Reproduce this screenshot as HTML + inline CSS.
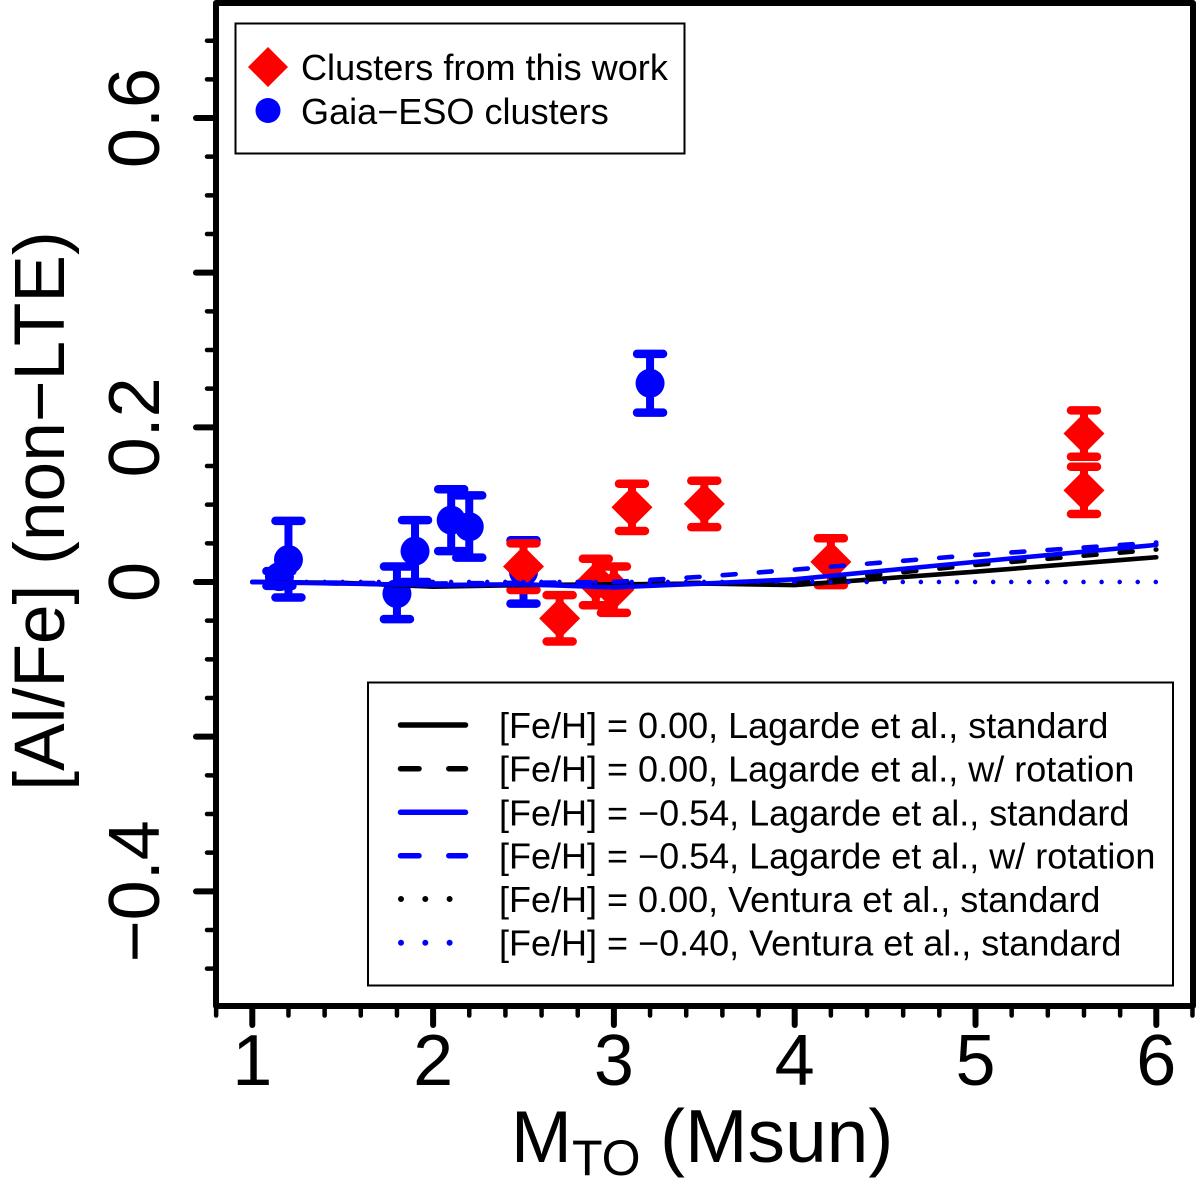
<!DOCTYPE html>
<html lang="en">
<head>
<meta charset="utf-8">
<title>[Al/Fe] versus turn-off mass</title>
<style>
html,body{margin:0;padding:0;background:#fff;}
svg{display:block;}
text{font-family:"Liberation Sans",Arial,sans-serif;fill:#000;}
</style>
</head>
<body>
<svg id="chart" xmlns="http://www.w3.org/2000/svg" width="1200" height="1187" viewBox="0 0 1200 1187">
  <rect x="0" y="0" width="1200" height="1187" fill="#fff"/>
  <g id="marks"></g>
  <g id="lines"></g>
  <g id="axes"></g>

  <rect x="216" y="3" width="977" height="1003" fill="none" stroke="#000" stroke-width="6" stroke-linejoin="round"/>

  <text x="511" y="1162" font-size="73">M<tspan x="572" dy="13" font-size="50">TO</tspan><tspan x="660" dy="-13" font-size="75">(Msun)</tspan></text>
  <text transform="translate(64,511) rotate(-90)" text-anchor="middle" font-size="71.300">[Al/Fe] (non−LTE)</text>

  <g>
    <rect x="235.500" y="23.500" width="449" height="130" fill="#fff" stroke="#000" stroke-width="2"/>
    <polygon points="268,47 288,67 268,87 248,67" fill="#f00"/>
    <circle cx="268" cy="110.500" r="12.500" fill="#00f"/>
    <text x="301" y="80" font-size="36.100">Clusters from this work</text>
    <text x="301" y="124" font-size="36.100">Gaia−ESO clusters</text>
  </g>

  <g>
    <rect x="368" y="682.500" width="805" height="303" fill="#fff" stroke="#000" stroke-width="2"/>
    <line x1="400.500" x2="465.500" y1="725" y2="725" stroke="#000" stroke-width="5.500" stroke-linecap="round"/>
    <line x1="400.500" x2="465.500" y1="768.700" y2="768.700" stroke="#000" stroke-width="5.500" stroke-linecap="round" stroke-dasharray="18.500 29.800"/>
    <line x1="400.500" x2="465.500" y1="812.300" y2="812.300" stroke="#00f" stroke-width="5.500" stroke-linecap="round"/>
    <line x1="400.500" x2="465.500" y1="855.700" y2="855.700" stroke="#00f" stroke-width="5.500" stroke-linecap="round" stroke-dasharray="18.500 29.800"/>
    <line x1="401" x2="452" y1="899" y2="899" stroke="#000" stroke-width="6" stroke-linecap="round" stroke-dasharray="0 24.300"/>
    <line x1="401" x2="452" y1="942.700" y2="942.700" stroke="#00f" stroke-width="6" stroke-linecap="round" stroke-dasharray="0 24.300"/>
    <text x="499" y="738" font-size="36">[Fe/H] = 0.00, Lagarde et al., standard</text>
    <text x="499" y="781.700" font-size="36">[Fe/H] = 0.00, Lagarde et al., w/ rotation</text>
    <text x="499" y="825.300" font-size="36">[Fe/H] = −0.54, Lagarde et al., standard</text>
    <text x="499" y="868.700" font-size="36">[Fe/H] = −0.54, Lagarde et al., w/ rotation</text>
    <text x="499" y="912" font-size="36">[Fe/H] = 0.00, Ventura et al., standard</text>
    <text x="499" y="955.700" font-size="36">[Fe/H] = −0.40, Ventura et al., standard</text>
  </g>
</svg>

<script>
// Data
const gesMass  = [1.15, 1.2, 1.8, 1.9, 2.1, 2.2, 2.5, 3.2];
const gesValue = [0.007, 0.029, -0.015, 0.04, 0.08, 0.0715, 0.013, 0.257];
const gesLow   = [-0.005, -0.02, -0.048, 0.0, 0.04, 0.0315, -0.028, 0.219];
const gesHigh  = [0.014, 0.079, 0.02, 0.08, 0.12, 0.112, 0.054, 0.295];

const workMass  = [2.5, 2.7, 2.9, 3.0, 3.1, 3.5, 4.2, 5.6, 5.6];
const workValue = [0.02, -0.047, 0.0, -0.01, 0.0966, 0.101, 0.026, 0.192, 0.1185];
const workLow   = [-0.0103, -0.077, -0.03, -0.04, 0.066, 0.071, -0.004, 0.162, 0.088];
const workHigh  = [0.05, -0.017, 0.03, 0.02, 0.127, 0.131, 0.0565, 0.222, 0.149];

const modelMass        = [1, 1.5, 2, 2.5, 3, 3.5, 4, 5, 6];
const solarStandard    = [0, -0.001, -0.006, -0.004, -0.003, -0.002, -0.004, 0.0133, 0.032];
const solarRotation    = [0, -0.002, -0.003, -0.002, -0.002, -0.001, -0.001, 0.022, 0.042];
const poorStandard     = [0, -0.002, -0.004, -0.003, -0.007, -0.002, 0.0035, 0.026, 0.048];
const poorRotation     = [0, -0.001, -0.002, -0.001, 0.0, 0.007, 0.016, 0.035, 0.051];
const venturaMass      = [1, 6];
const venturaSolar     = [0, 0];
const venturaPoor      = [0, 0];

const xMajorTicks = [1, 2, 3, 4, 5, 6];
const xMinorTicks = [0.8, 1.2, 1.4, 1.6, 1.8, 2.2, 2.4, 2.6, 2.8, 3.2, 3.4, 3.6, 3.8, 4.2, 4.4, 4.6, 4.8, 5.2, 5.4, 5.6, 5.8, 6.2];
const yMajorTicks = [-0.4, -0.2, 0, 0.2, 0.4, 0.6];
const yMinorTicks = [-0.5, -0.45, -0.35, -0.3, -0.25, -0.15, -0.1, -0.05, 0.05, 0.1, 0.15, 0.25, 0.3, 0.35, 0.45, 0.5, 0.55, 0.65, 0.7];
const yTickValues = [-0.4, 0, 0.2, 0.6];
const yTickLabels = ['−0.4', '0', '0.2', '0.6'];

// Axis functions
function xScale(v) { return 252.3 + (v - 1) * 180.8; }
function yScale(v) { return 582 - v * 773.3; }

const NS = 'http://www.w3.org/2000/svg';
const marksG = document.getElementById('marks');
const linesG = document.getElementById('lines');
const axesG = document.getElementById('axes');

function mk(tag, parent, attrs) {
  const node = document.createElementNS(NS, tag);
  for (const k in attrs) node.setAttribute(k, attrs[k]);
  parent.appendChild(node);
  return node;
}

function drawError(parent, mass, low, high, color) {
  const cx = xScale(mass);
  const stem = mk('line', parent, {x1: cx, x2: cx, y1: yScale(low), y2: yScale(high), stroke: color, 'stroke-width': 8});
  
  
  const capLow = mk('line', parent, {x1: cx - 13, x2: cx + 13, y1: yScale(low), y2: yScale(low), stroke: color, 'stroke-width': 8.5, 'stroke-linecap': 'round'});
  
  
  const capHigh = mk('line', parent, {x1: cx - 13, x2: cx + 13, y1: yScale(high), y2: yScale(high), stroke: color, 'stroke-width': 8.5, 'stroke-linecap': 'round'});
  
  
}

gesMass.forEach(function (m, i) {
  const g = mk('g', marksG, {});
  
  
  drawError(g, m, gesLow[i], gesHigh[i], '#00f');
  const dot = mk('circle', g, {cx: xScale(m), cy: yScale(gesValue[i]), r: 14.5, fill: '#00f'});
  
  
});

workMass.forEach(function (m, i) {
  const g = mk('g', marksG, {});
  
  
  drawError(g, m, workLow[i], workHigh[i], '#f00');
  const cx = xScale(m);
  const cy = yScale(workValue[i]);
  const pts = [[cx, cy - 20.5], [cx + 20.5, cy], [cx, cy + 20.5], [cx - 20.5, cy]].map(function (p) { return p.join(','); }).join(' ');
  const diamond = mk('polygon', g, {points: pts, fill: '#f00'});
  
  
});

function linePath(xs, ys) {
  return xs.map(function (x, i) { return (i ? 'L' : 'M') + xScale(x).toFixed(2) + ' ' + yScale(ys[i]).toFixed(2); }).join(' ');
}

const solarStandardLine = mk('path', linesG, {d: linePath(modelMass, solarStandard), fill: 'none', stroke: '#000', 'stroke-width': 4.6, 'stroke-linecap': 'round', 'stroke-linejoin': 'round'});



const solarRotationLine = mk('path', linesG, {d: linePath(modelMass, solarRotation), fill: 'none', stroke: '#000', 'stroke-width': 4.6, 'stroke-linecap': 'round', 'stroke-linejoin': 'round', 'stroke-dasharray': '13 23.2'});



const venturaSolarLine = mk('path', linesG, {d: linePath(venturaMass, venturaSolar), fill: 'none', stroke: '#000', 'stroke-width': 4.4, 'stroke-linecap': 'round', 'stroke-dasharray': '0 18.07'});



const poorRotationLine = mk('path', linesG, {d: linePath(modelMass, poorRotation), fill: 'none', stroke: '#00f', 'stroke-width': 4.6, 'stroke-linecap': 'round', 'stroke-linejoin': 'round', 'stroke-dasharray': '13 23.2'});



const poorStandardLine = mk('path', linesG, {d: linePath(modelMass, poorStandard), fill: 'none', stroke: '#00f', 'stroke-width': 4.6, 'stroke-linecap': 'round', 'stroke-linejoin': 'round'});



const venturaPoorLine = mk('path', linesG, {d: linePath(venturaMass, venturaPoor), fill: 'none', stroke: '#00f', 'stroke-width': 4.4, 'stroke-linecap': 'round', 'stroke-dasharray': '0 18.07'});



xMajorTicks.forEach(function (v) {
  const t = mk('line', axesG, {x1: xScale(v), x2: xScale(v), y1: 1006, y2: 1025, stroke: '#000', 'stroke-width': 6, 'stroke-linecap': 'round'});
  
  
  const label = mk('text', axesG, {x: xScale(v), y: 1085, 'text-anchor': 'middle', 'font-size': 72});
  
  
  label.textContent = String(v);
});

xMinorTicks.forEach(function (v) {
  const t = mk('line', axesG, {x1: xScale(v), x2: xScale(v), y1: 1006, y2: 1015.5, stroke: '#000', 'stroke-width': 4.5, 'stroke-linecap': 'round'});
  
  
});

yMajorTicks.forEach(function (v) {
  const t = mk('line', axesG, {x1: 216, x2: 196, y1: yScale(v), y2: yScale(v), stroke: '#000', 'stroke-width': 6, 'stroke-linecap': 'round'});
  
  
});

yMinorTicks.forEach(function (v) {
  const t = mk('line', axesG, {x1: 216, x2: 207, y1: yScale(v), y2: yScale(v), stroke: '#000', 'stroke-width': 4.5, 'stroke-linecap': 'round'});
  
  
});

yTickValues.forEach(function (v, i) {
  const label = mk('text', axesG, {transform: 'translate(159,' + yScale(v) + ') rotate(-90)', 'text-anchor': 'middle', 'font-size': 72});
  
  
  label.textContent = yTickLabels[i];
});
</script>
</body>
</html>
